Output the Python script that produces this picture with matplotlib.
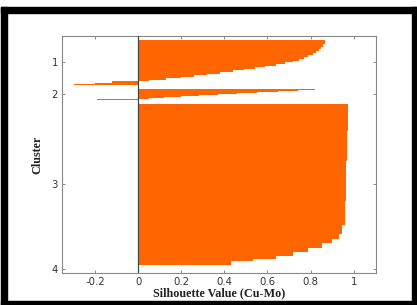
import matplotlib
matplotlib.use("Agg")
import matplotlib.pyplot as plt
from matplotlib.patches import Rectangle

# silhouette profile per cluster as (value, number of points) steps,
# sorted from highest to lowest as in the original silhouette plot
cluster_labels = ["1", "2", "3", "4"]
cluster1 = [(0.865, 9), (0.86, 8), (0.85, 5), (0.84, 5), (0.825, 5), (0.81, 5),
            (0.79, 5), (0.77, 5), (0.745, 5),
            (0.72, 4), (0.68, 4), (0.64, 4), (0.59, 4), (0.54, 4), (0.49, 4),
            (0.44, 4), (0.38, 4), (0.32, 4), (0.26, 4), (0.20, 4), (0.13, 4),
            (0.05, 3),
            (-0.12, 5), (-0.20, 1), (-0.26, 1), (-0.30, 2)]
cluster2 = [(0.82, 3), (0.74, 2), (0.65, 3), (0.55, 3), (0.46, 2), (0.37, 3),
            (0.28, 3), (0.20, 2), (0.12, 3), (0.05, 2), (-0.19, 1)]
cluster3 = [(0.974, 68), (0.970, 75), (0.965, 100), (0.958, 62), (0.946, 21),
            (0.93, 12), (0.90, 12), (0.853, 11), (0.79, 10), (0.72, 10),
            (0.64, 7), (0.535, 6), (0.43, 9)]
cluster4 = [(0.68, 1)]
clusters = [cluster1, cluster2, cluster3, cluster4]

x_ticks = [-0.2, 0, 0.2, 0.4, 0.6, 0.8, 1]
x_ticklabels = ["-0.2", "0", "0.2", "0.4", "0.6", "0.8", "1"]

ORANGE = "#ff6600"
GAP = 10  # blank rows between clusters

fig = plt.figure(figsize=(4.17, 3.05), dpi=100)
ax = fig.add_axes([62 / 417, 32 / 305, 314 / 417, 237 / 305])

pos = GAP
tick_pos = []
for steps in clusters:
    start = pos
    for value, count in steps:
        ax.barh(pos + count / 2, value, height=count, color=ORANGE,
                edgecolor="none", linewidth=0)
        pos += count
    tick_pos.append((start + pos) / 2)
    pos += GAP

ax.set_ylim(pos, 0)
ax.set_xlim(-0.354, 1.104)
ax.axvline(0, color="#444444", lw=0.9, zorder=3)

ax.set_yticks(tick_pos)
ax.set_yticklabels(cluster_labels)
ax.set_xticks(x_ticks)
ax.set_xticklabels(x_ticklabels)

ax.tick_params(direction="in", length=2.5, width=0.6, colors="#777777",
               labelcolor="#333333", labelsize=7.3, top=True, right=True, pad=3)
for s in ax.spines.values():
    s.set_color("#888888")
    s.set_linewidth(0.8)

ax.set_xlabel("Silhouette Value (Cu-Mo)", family="Liberation Serif",
              fontweight="bold", fontsize=8.7, color="#222222", labelpad=0)
ax.set_ylabel("Cluster", family="Liberation Serif", fontweight="bold",
              fontsize=8.7, color="#222222", labelpad=6)

# black frame around the picture
frame = [(1, 7, 416, 6), (1, 7, 6, 298), (412, 7, 5, 298), (1, 301, 416, 4)]
for x0, y0, w, h in frame:
    fig.patches.append(Rectangle((x0 / 417, 1 - (y0 + h) / 305), w / 417, h / 305,
                                 transform=fig.transFigure, color="black",
                                 zorder=10))

fig.savefig("out.png", dpi=100)
